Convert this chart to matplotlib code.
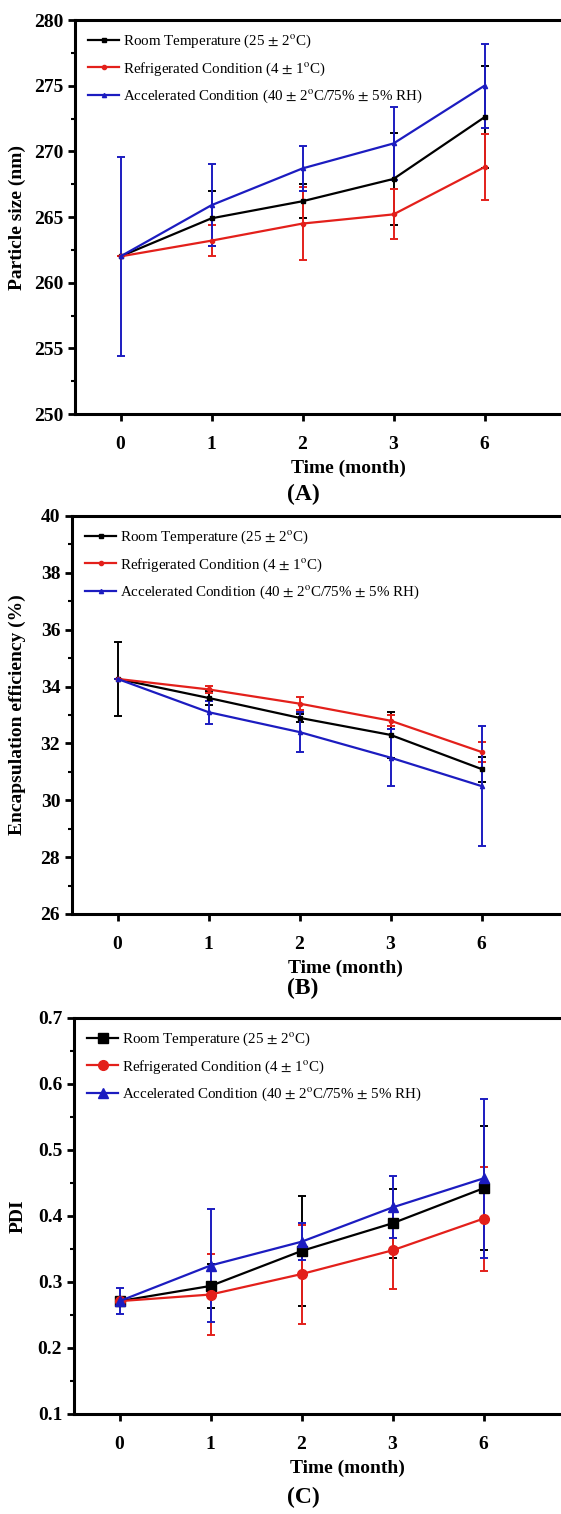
import matplotlib
matplotlib.use("Agg")
import matplotlib.pyplot as plt
from matplotlib.ticker import MultipleLocator

plt.rcParams['font.family'] = ['Liberation Serif', 'DejaVu Serif']
plt.rcParams['mathtext.fontset'] = 'stix'

## données
months = ['0', '1', '2', '3', '6']
labels = ['Room Temperature (25 $\\pm$ 2$^{\\mathrm{o}}$C)',
          'Refrigerated Condition (4 $\\pm$ 1$^{\\mathrm{o}}$C)',
          'Accelerated Condition (40 $\\pm$ 2$^{\\mathrm{o}}$C/75% $\\pm$ 5% RH)']

size_room = [262.0, 264.9, 266.2, 267.9, 272.6]
size_room_err = [0.0, 2.1, 1.3, 3.5, 3.9]
size_fridge = [262.0, 263.2, 264.5, 265.2, 268.8]
size_fridge_err = [0.0, 1.2, 2.8, 1.9, 2.5]
size_acc = [262.0, 265.9, 268.7, 270.6, 275.0]
size_acc_err = [7.6, 3.1, 1.7, 2.8, 3.2]

ee_room = [34.27, 33.6, 32.9, 32.3, 31.1]
ee_room_err = [1.3, 0.25, 0.15, 0.8, 0.44]
ee_fridge = [34.27, 33.9, 33.4, 32.8, 31.7]
ee_fridge_err = [0.0, 0.12, 0.23, 0.2, 0.35]
ee_acc = [34.27, 33.1, 32.4, 31.5, 30.5]
ee_acc_err = [0.0, 0.4, 0.7, 1.0, 2.1]

pdi_room = [0.271, 0.294, 0.347, 0.389, 0.442]
pdi_room_err = [0.0, 0.034, 0.083, 0.052, 0.094]
pdi_fridge = [0.271, 0.281, 0.312, 0.348, 0.396]
pdi_fridge_err = [0.0, 0.062, 0.075, 0.059, 0.079]
pdi_acc = [0.271, 0.325, 0.361, 0.413, 0.457]
pdi_acc_err = [0.02, 0.086, 0.028, 0.047, 0.12]

colors = ['black', '#e3201b', '#1c1cc0']
markers = ['s', 'o', '^']

W, H = 561, 1514
fig = plt.figure(figsize=(W / 100, H / 100), dpi=100)


def panel(top, bottom, left, series, errs, ylim, major, minor, ylabel, msize, letter, letter_y, ylab_x):
    ax = fig.add_axes([left / W, 1 - bottom / H, 546 / W, (bottom - top) / H])
    x = range(len(months))
    handles = []
    for i in range(3):
        c = ax.errorbar(x, series[i], yerr=errs[i], color=colors[i], marker=markers[i],
                        markersize=msize, lw=1.6, elinewidth=1.4, capsize=3, capthick=1.4)
        handles.append(c[0])
    ax.set_xlim(-0.5, 5.5)
    ax.set_ylim(*ylim)
    ax.set_xticks(list(x))
    ax.set_xticklabels(months)
    ax.yaxis.set_major_locator(MultipleLocator(major))
    ax.yaxis.set_minor_locator(MultipleLocator(minor))
    for s in ['left', 'bottom', 'top']:
        ax.spines[s].set_linewidth(2.2)
    ax.spines['right'].set_visible(False)
    ax.tick_params(axis='both', which='major', direction='out', length=5, width=2,
                   labelsize=14)
    ax.tick_params(axis='x', pad=11)
    ax.tick_params(axis='y', which='minor', direction='out', length=3, width=1.5)
    for t in ax.get_xticklabels() + ax.get_yticklabels():
        t.set_fontweight('bold')
    ax.set_xlabel('Time (month)', fontsize=14, fontweight='bold', labelpad=5)
    ax.set_ylabel(ylabel, fontsize=14, fontweight='bold')
    ax.yaxis.set_label_coords((ylab_x - left) / 546, 0.5)
    ax.legend(handles, labels, loc='upper left', frameon=False, fontsize=10.8,
              handlelength=2.1, handletextpad=0.25, labelspacing=0.68,
              borderaxespad=0.45, bbox_to_anchor=(0.0, 1.0))
    fig.text(303 / W, 1 - letter_y / H, letter, ha='center', va='center',
             fontsize=17, fontweight='bold')
    return ax


panel(20, 414, 75, [size_room, size_fridge, size_acc],
      [size_room_err, size_fridge_err, size_acc_err], (250, 280), 5, 2.5,
      'Particle size (nm)', 3, '(A)', 494, 26)
panel(516, 914, 72, [ee_room, ee_fridge, ee_acc],
      [ee_room_err, ee_fridge_err, ee_acc_err], (26, 40), 2, 1,
      'Encapsulation efficiency (%)', 3, '(B)', 988, 26)
panel(1018, 1414, 74, [pdi_room, pdi_fridge, pdi_acc],
      [pdi_room_err, pdi_fridge_err, pdi_acc_err], (0.1, 0.7), 0.1, 0.05,
      'PDI', 7, '(C)', 1497, 27)

plt.savefig('out.png', dpi=100)
